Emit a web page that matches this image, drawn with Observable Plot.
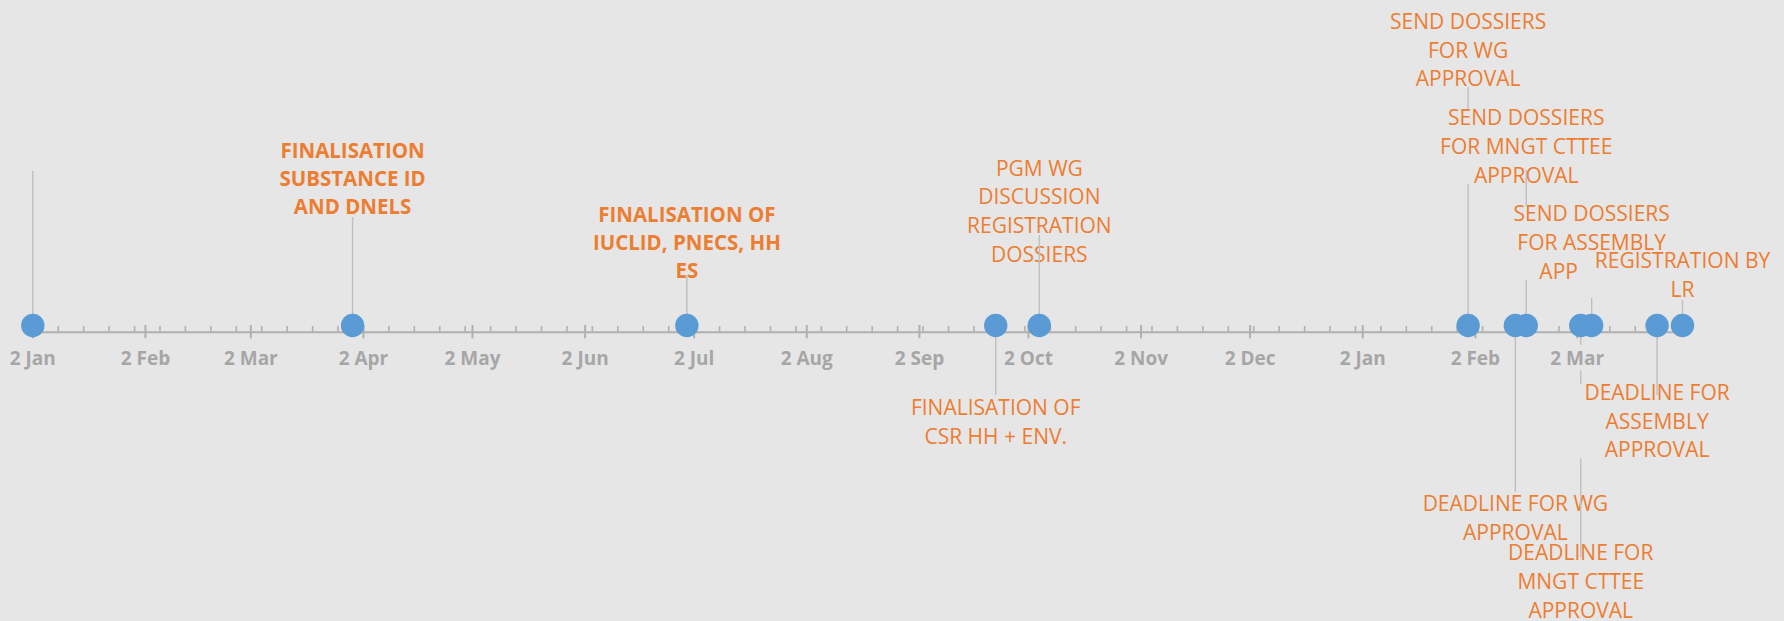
<!DOCTYPE html>
<html>
<head>
<meta charset="utf-8">
<script src="https://cdn.jsdelivr.net/npm/d3@7"></script>
<script src="https://cdn.jsdelivr.net/npm/@observablehq/plot@0.6"></script>
<style>
  html, body { margin: 0; padding: 0; background: #e7e6e6; }
  #chart svg { display: block; }
</style>
</head>
<body>
<div id="chart"></div>
<script>
// ---- data ----
const eventDates = [
  "2020-01-02", "2020-03-30", "2020-06-30", "2020-09-23", "2020-10-05",
  "2021-01-31", "2021-02-13", "2021-02-16", "2021-03-03", "2021-03-06",
  "2021-03-24", "2021-03-31"
];
const eventLabels = [
  "",
  "FINALISATION\nSUBSTANCE ID\nAND DNELS",
  "FINALISATION OF\nIUCLID, PNECS, HH\nES",
  "FINALISATION OF\nCSR HH + ENV.",
  "PGM WG\nDISCUSSION\nREGISTRATION\nDOSSIERS",
  "SEND DOSSIERS\nFOR WG\nAPPROVAL",
  "DEADLINE FOR WG\nAPPROVAL",
  "SEND DOSSIERS\nFOR MNGT CTTEE\nAPPROVAL",
  "DEADLINE FOR\nMNGT CTTEE\nAPPROVAL",
  "SEND DOSSIERS\nFOR ASSEMBLY\nAPPROVAL",
  "DEADLINE FOR\nASSEMBLY\nAPPROVAL",
  "REGISTRATION BY\nLR"
];
// height of the leader line (positive = above the axis, negative = below)
const lineHeights  = [15.4, 10.8, 5.0, -7.0, 9.0, 23.8, -16.7, 15.5, -23.2, 3.3, -7.0, 2.5];
// height of the label's centre
const labelHeights = [null, 14.6, 8.2, -9.7, 11.35, 27.45, -19.3, 17.8, -25.7, 8.2, -9.65, 4.97];
const boldLabels   = [false, true, true, false, false, false, false, false, false, false, false, false];

const tickDates = [
  "2020-01-02", "2020-02-02", "2020-03-02", "2020-04-02", "2020-05-02", "2020-06-02",
  "2020-07-02", "2020-08-02", "2020-09-02", "2020-10-02", "2020-11-02", "2020-12-02",
  "2021-01-02", "2021-02-02", "2021-03-02"
];
const tickLabels = [
  "2 Jan", "2 Feb", "2 Mar", "2 Apr", "2 May", "2 Jun", "2 Jul", "2 Aug",
  "2 Sep", "2 Oct", "2 Nov", "2 Dec", "2 Jan", "2 Feb", "2 Mar"
];
const axisStart = "2020-01-02";
const axisEnd = "2021-03-31";
const minorTickStepDays = 7;

// ---- derived tables ----
const parse = d3.utcParse("%Y-%m-%d");
const events = eventDates.map((d, i) => ({
  date: parse(d),
  label: eventLabels[i],
  lineH: lineHeights[i],
  labelH: labelHeights[i],
  bold: boldLabels[i]
}));
const majorTicks = tickDates.map(parse);
const tickLabelOf = new Map(majorTicks.map((d, i) => [+d, tickLabels[i]]));
const start = parse(axisStart), end = parse(axisEnd);
const minorTicks = [];
for (let t = +start; t <= +end; t += minorTickStepDays * 864e5) minorTicks.push(new Date(t));

const BG = "#e7e6e6";
const ORANGE = "#ED7D31";
const BLUE = "#5B9BD5";
const LEADER = "#bfbfbf";
const AXIS = "#b0b0b0";
const LABEL_SIZE = 21;

const eventMarks = events.flatMap(e => [
  Plot.text([e], {
    x: "date", y: "labelH", text: "label", dy: -2.5,
    fill: ORANGE, fontSize: e.bold ? 20.5 : LABEL_SIZE, fontWeight: e.bold ? "bold" : "normal",
    lineAnchor: "middle", textAnchor: "middle", lineHeight: 1.37
  }),
  Plot.ruleX([e], {x: "date", y1: 0, y2: "lineH", stroke: LEADER, strokeWidth: 1.4})
]);

const chart = Plot.plot({
  width: 1784,
  height: 621,
  marginLeft: 32.3,
  marginRight: 102,
  marginTop: 0,
  marginBottom: 289.3,
  style: {background: BG, fontFamily: "'Open Sans', sans-serif", overflow: "visible"},
  x: {type: "utc", domain: [start, end], axis: null},
  y: {domain: [-0.67, 32.5], axis: null},
  marks: [
    ...eventMarks,
    Plot.ruleY([0], {dy: 6.7, stroke: AXIS, strokeWidth: 2}),
    Plot.axisX(minorTicks, {tickSize: 5.7, dy: -5.7, fill: "none", stroke: AXIS, strokeWidth: 1.6, label: null}),
    Plot.axisX(majorTicks, {tickSize: 13.3, dy: -6.7, fill: "none", stroke: AXIS, strokeWidth: 2, label: null}),
    Plot.axisX(majorTicks, {
      tickSize: 0, tickPadding: 19, stroke: "none", fill: "#a6a6a6",
      fontSize: 19, fontWeight: "bold", label: null,
      tickFormat: d => tickLabelOf.get(+d)
    }),
    Plot.dot(events, {x: "date", y: 0, r: 11.7, fill: BLUE})
  ]
});

document.getElementById("chart").appendChild(chart);

// Opaque label backgrounds (like filled chart data labels)
function addBoxes(selector, padX, trimTop, trimBottom) {
  chart.querySelectorAll(selector).forEach(g => {
    g.querySelectorAll("text").forEach(t => {
      const b = t.getBBox();
      if (!b.width || !b.height) return;
      const r = document.createElementNS("http://www.w3.org/2000/svg", "rect");
      r.setAttribute("x", b.x - padX);
      r.setAttribute("y", b.y + trimTop);
      r.setAttribute("width", b.width + 2 * padX);
      r.setAttribute("height", Math.max(0, b.height - trimTop - trimBottom));
      r.setAttribute("fill", BG);
      r.setAttribute("stroke", "none");
      const tr = t.getAttribute("transform");
      if (tr) r.setAttribute("transform", tr);
      t.parentNode.insertBefore(r, t);
    });
  });
}
addBoxes('g[aria-label="text"]', 16, 0.3 * LABEL_SIZE, 0.24 * LABEL_SIZE);
addBoxes('g[aria-label="x-axis tick label"]', 2, 0, 0);
</script>
</body>
</html>
